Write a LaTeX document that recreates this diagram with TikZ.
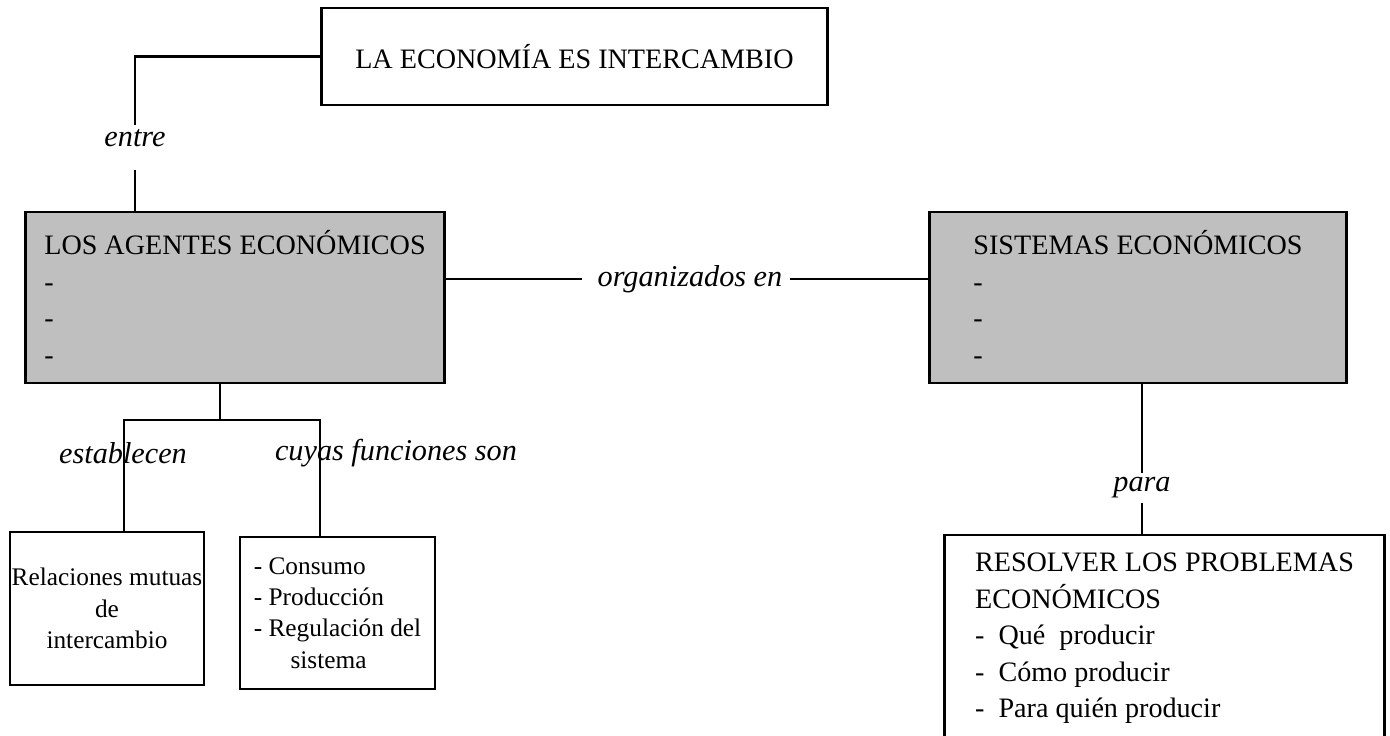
\documentclass[tikz,border=0pt]{standalone}
\usepackage{fontspec}
\setmainfont{Liberation Serif}

\begin{document}
\begin{tikzpicture}
      [x=0.01cm,y=-0.01cm,
        box/.style={draw,line width=0.8pt,inner sep=0pt,font=\fontsize{8}{10.4}\selectfont},
        graybox/.style={box,fill=gray!50,align=left},
        smallbox/.style={box,font=\fontsize{7.2}{8.9}\selectfont},
        lbl/.style={font=\fontsize{8.6}{10}\selectfont\itshape,inner sep=1pt},
        link/.style={line width=0.6pt}]
  \useasboundingbox (0,0) rectangle (1390,736);
  \clip (0,0) rectangle (1390,736);
  % boxes
  \node[box,minimum width=5.05cm,minimum height=0.97cm] (eco) at (574.5,56.5)
    {LA ECONOMÍA ES INTERCAMBIO};
  \node[graybox,minimum width=4.18cm,minimum height=1.71cm] (agentes) at (235,297.5)
    {LOS AGENTES ECONÓMICOS\\-\\-\\-};
  \node[graybox,minimum width=4.16cm,minimum height=1.71cm] (sistemas) at (1138,297.5)
    {SISTEMAS ECONÓMICOS\\-\\-\\-};
  \node[box,align=left,minimum width=4.39cm,minimum height=2.07cm] (resolver) at (1164.5,638.5)
    {RESOLVER LOS PROBLEMAS\\ECONÓMICOS\\-\ \ Qué\ \ producir\\-\ \ Cómo producir\\-\ \ Para quién producir};
  \node[smallbox,align=center,minimum width=1.94cm,minimum height=1.53cm] (relac) at (107,608.5)
    {Relaciones mutuas\\de\\intercambio};
  \node[smallbox,align=left,minimum width=1.95cm,minimum height=1.52cm] (consumo) at (337.5,613)
    {- Consumo\\- Producción\\- Regulación del\\\hspace*{1.45em}sistema};
  % labels
  \node[lbl] (entre) at (135,138) {entre};
  \node[lbl] (org) at (690,279) {organizados en};
  \node[lbl] (para) at (1142,488) {para};
  \node[lbl] (estab) at (123,453) {establecen};
  \node[lbl] (cuyas) at (396,453) {cuyas funciones son};
  % connectors
  \coordinate (fork) at (220,420);
  \coordinate (legA) at (124,420);
  \coordinate (legB) at (320,420);
  \draw[link] (eco.west) -| (entre.north);
  \draw[link] ([yshift=-0.19cm]entre.south) -- (entre.south |- agentes.north);
  \draw[link] (agentes.east |- org.west) -- ([xshift=-0.12cm]org.west);
  \draw[link] ([xshift=0.04cm]org.east) -- (sistemas.west |- org.east);
  \draw[link] (sistemas.south -| para) -- (para.north);
  \draw[link] (para.south) -- (para.south |- resolver.north);
  \draw[link] (agentes.south -| fork) -- (fork);
  \draw[link] (legA |- relac.north) -- (legA) -- (legB) -- (legB |- consumo.north);
\end{tikzpicture}
\end{document}
